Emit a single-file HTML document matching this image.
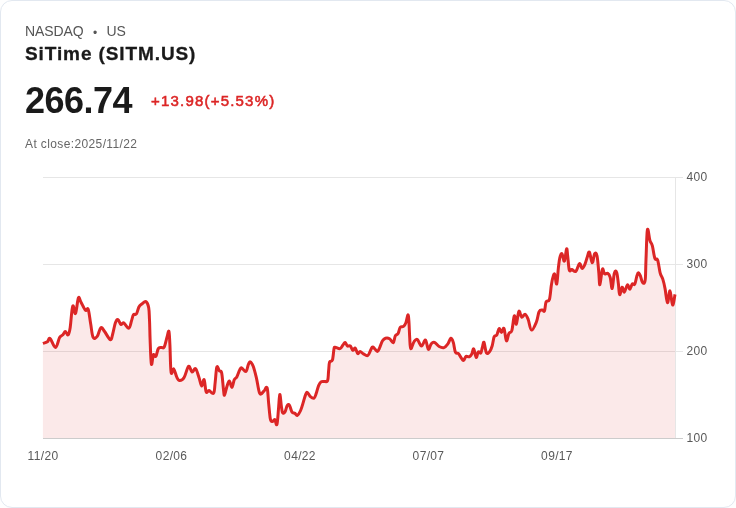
<!DOCTYPE html>
<html lang="en">
<head>
<meta charset="utf-8">
<title>SiTime (SITM.US)</title>
<style>
html,body{margin:0;padding:0;background:#fefefe;}
body{width:736px;height:508px;overflow:hidden;font-family:"Liberation Sans",sans-serif;}
.card{position:absolute;left:0;top:0;width:734px;height:506px;border:1px solid #e2e8f0;border-radius:12px;background:#fff;overflow:hidden;}
.t{position:absolute;white-space:nowrap;line-height:1;}
.ex{left:24px;top:23px;font-size:14px;color:#555;letter-spacing:-0.1px;}
.ex .dot{display:inline-block;width:23px;text-align:center;font-size:12px;position:relative;top:1px;left:0px;letter-spacing:0;}
.name{left:24px;top:43px;font-size:19px;font-weight:bold;color:#1a1a1a;letter-spacing:0.9px;-webkit-text-stroke:0.3px #1a1a1a;}
.price{left:24px;top:82px;font-size:36px;font-weight:bold;color:#1a1a1a;letter-spacing:-0.5px;}
.chg{left:150px;top:91.5px;font-size:15px;color:#dc2626;letter-spacing:1.2px;-webkit-text-stroke:0.55px #dc2626;}
.close{left:24px;top:137px;font-size:12px;color:#666;letter-spacing:0.38px;}
svg{position:absolute;left:-1px;top:-1px;}
svg text{font-family:"Liberation Sans",sans-serif;font-size:12px;fill:#595959;letter-spacing:0.35px;}
</style>
</head>
<body>
<div class="card">
<div class="t ex">NASDAQ<span class="dot">•</span>US</div>
<div class="t name">SiTime (SITM.US)</div>
<div class="t price">266.74</div>
<div class="t chg">+13.98(+5.53%)</div>
<div class="t close">At close:2025/11/22</div>
<svg width="736" height="508" viewBox="0 0 736 508">
<g stroke="#e6e6e6" stroke-width="1" shape-rendering="crispEdges">
<line x1="43" y1="177.5" x2="683" y2="177.5"/>
<line x1="43" y1="264.5" x2="683" y2="264.5"/>
<line x1="43" y1="351.5" x2="683" y2="351.5"/>
<line x1="675.5" y1="177" x2="675.5" y2="439"/>
</g>
<path d="M42.9 343.4C43.7 343.1 46.1 342.7 47.4 341.8C48.7 340.9 48.6 337.5 50.1 338.5C51.6 339.5 53.8 347.6 55.5 347.4C57.2 347.2 58.3 339.8 59.6 337.5C60.9 335.2 61.9 335.9 62.9 334.8C63.9 333.7 64.4 331.5 65.3 331.5C66.2 331.5 67.2 335.5 68.1 334.8C69.0 334.1 69.4 332.5 70.2 327.4C71.0 322.3 71.7 308.7 72.7 306.2C73.7 303.7 74.5 315.0 75.5 313.5C76.5 312.0 77.4 300.1 78.4 298.0C79.4 295.9 79.6 299.8 80.9 302.0C82.2 304.2 84.1 308.9 85.4 310.2C86.7 311.5 87.2 306.9 88.2 309.4C89.2 311.9 89.8 319.1 90.7 324.1C91.6 329.1 91.9 335.0 93.1 337.2C94.3 339.4 95.8 338.1 97.2 336.4C98.6 334.7 99.5 328.6 100.8 327.7C102.1 326.8 102.9 329.3 104.6 331.5C106.3 333.7 108.8 339.2 110.3 339.7C111.8 340.1 111.8 337.1 112.7 334.0C113.6 330.9 114.5 325.1 115.5 322.5C116.5 319.9 117.0 319.2 118.0 319.6C119.0 320.0 119.9 323.9 120.9 324.5C121.9 325.1 122.3 322.1 123.7 322.8C125.1 323.5 127.4 328.5 128.8 328.2C130.2 327.9 130.7 323.3 131.5 320.9C132.3 318.5 132.6 315.9 133.5 314.7C134.4 313.5 135.4 315.4 136.4 314.0C137.4 312.6 137.9 308.9 138.9 307.0C139.9 305.1 140.9 304.7 142.2 303.7C143.5 302.7 144.7 300.9 145.9 301.6C147.1 302.3 148.1 304.5 148.7 307.8C149.3 311.1 149.2 314.3 149.5 320.0C149.8 325.7 149.8 331.7 150.1 339.6C150.4 347.5 150.8 361.4 151.4 364.1C152.0 366.8 152.6 356.1 153.4 354.7C154.2 353.3 155.0 357.4 155.9 356.3C156.8 355.2 157.3 350.2 158.3 348.6C159.3 347.0 160.2 347.8 161.3 347.5C162.4 347.2 163.2 348.9 164.2 347.0C165.2 345.1 166.2 340.0 167.0 337.2C167.8 334.4 168.4 330.1 168.9 331.4C169.4 332.7 169.5 337.1 169.9 344.5C170.3 351.9 170.4 367.9 171.1 372.3C171.8 376.7 172.8 368.1 173.8 369.0C174.8 369.9 175.8 375.1 176.8 377.2C177.8 379.3 178.3 380.4 179.6 380.5C180.9 380.6 182.5 380.1 184.1 377.5C185.7 374.9 187.2 367.3 188.6 366.3C190.0 365.3 190.7 371.6 192.0 372.0C193.3 372.4 194.4 367.7 195.6 368.6C196.8 369.5 197.8 374.1 198.9 377.2C200.0 380.3 200.7 385.4 201.6 385.9C202.5 386.3 203.3 378.6 204.1 379.7C204.9 380.8 205.3 389.9 206.2 391.9C207.1 393.9 207.7 390.4 209.0 390.6C210.3 390.8 212.5 394.7 213.6 393.2C214.7 391.7 214.6 386.8 215.2 382.1C215.8 377.4 216.1 369.2 216.8 367.1C217.5 365.0 218.4 369.6 219.3 370.7C220.2 371.8 221.0 369.9 221.7 373.1C222.4 376.3 222.9 384.7 223.4 388.7C223.9 392.7 223.9 395.6 224.5 395.2C225.1 394.8 226.1 388.8 227.0 386.2C227.9 383.6 228.5 380.8 229.4 381.0C230.3 381.2 231.0 387.6 231.9 387.4C232.8 387.2 233.4 381.6 234.3 379.7C235.2 377.8 235.8 378.7 236.8 376.9C237.8 375.1 238.8 371.5 239.7 369.9C240.6 368.3 240.6 367.6 241.7 367.9C242.8 368.2 244.7 372.1 245.9 371.5C247.1 370.9 247.5 366.4 248.3 364.7C249.1 363.0 249.3 361.5 250.2 361.8C251.1 362.1 252.1 363.4 253.2 366.3C254.3 369.2 255.2 372.9 256.4 377.8C257.6 382.7 258.4 390.9 259.7 393.3C261.0 395.7 262.5 392.2 263.8 391.2C265.1 390.2 266.2 385.6 267.1 387.9C268.0 390.2 268.1 398.4 268.7 403.9C269.3 409.4 269.7 415.5 270.3 418.7C270.9 421.9 271.5 421.5 272.3 421.6C273.1 421.7 274.0 419.0 274.8 419.5C275.6 420.0 276.2 426.3 276.9 424.4C277.6 422.5 278.0 414.3 278.5 408.9C279.0 403.5 279.3 395.1 279.8 394.5C280.3 393.9 280.8 402.3 281.3 405.6C281.8 408.9 281.9 411.5 282.6 412.6C283.3 413.7 284.3 413.1 285.1 411.8C285.9 410.5 286.4 406.8 287.2 405.6C288.0 404.4 288.7 404.2 289.5 405.3C290.3 406.4 290.9 410.3 291.9 411.8C292.9 413.3 293.9 412.8 294.9 413.4C295.9 414.0 296.3 415.9 297.3 415.4C298.3 414.9 299.5 413.0 300.6 410.5C301.7 408.0 302.6 404.5 303.5 401.5C304.4 398.5 305.1 395.7 305.8 394.1C306.5 392.5 306.6 392.1 307.4 392.5C308.2 392.9 309.2 395.6 310.4 396.6C311.6 397.6 313.0 398.7 314.0 398.2C315.0 397.7 315.3 396.1 316.1 393.8C316.9 391.5 317.7 387.7 318.6 385.6C319.5 383.5 320.0 382.7 321.0 381.9C322.0 381.1 323.1 381.6 324.3 381.4C325.5 381.2 326.8 382.6 327.6 380.7C328.4 378.8 328.2 374.4 328.6 371.0C329.0 367.6 328.9 364.0 329.6 362.0C330.3 360.0 331.6 362.5 332.4 360.1C333.2 357.7 333.5 351.2 334.0 348.9C334.5 346.6 334.0 347.4 335.1 347.3C336.2 347.2 338.6 349.0 340.0 348.6C341.4 348.2 342.1 346.0 343.0 344.9C343.9 343.8 344.3 342.2 345.1 342.4C345.9 342.6 346.5 345.4 347.4 346.0C348.3 346.6 349.3 345.2 350.3 346.0C351.3 346.8 351.9 349.9 352.8 350.3C353.7 350.7 354.3 347.5 355.2 348.1C356.1 348.7 356.8 352.9 357.7 353.5C358.6 354.1 359.1 351.3 360.1 351.4C361.1 351.5 362.0 353.2 363.4 353.9C364.8 354.6 366.5 356.2 367.8 355.5C369.1 354.8 369.9 351.3 370.8 349.8C371.7 348.3 371.7 346.7 372.9 347.0C374.1 347.3 376.1 351.3 377.3 351.4C378.5 351.5 378.9 349.2 379.8 347.3C380.7 345.4 381.5 342.4 382.5 340.8C383.5 339.2 384.2 338.7 385.5 338.3C386.8 337.9 388.2 338.0 389.6 338.8C391.0 339.6 392.3 343.2 393.3 342.7C394.3 342.2 394.4 337.6 395.3 335.9C396.2 334.2 397.2 334.9 398.1 333.4C399.0 331.9 399.2 328.7 400.2 327.4C401.2 326.1 402.5 327.2 403.5 326.4C404.5 325.6 405.1 324.9 405.9 322.8C406.7 320.7 407.4 315.2 407.9 314.9C408.4 314.6 408.6 317.1 408.9 321.2C409.2 325.3 409.4 332.6 409.7 337.5C410.0 342.4 410.0 347.9 410.8 348.6C411.6 349.3 412.9 343.2 414.1 341.6C415.3 340.0 416.1 338.7 417.4 339.5C418.7 340.3 420.0 345.9 421.5 346.0C423.0 346.1 424.3 339.4 425.5 340.0C426.7 340.6 427.3 348.6 428.3 349.3C429.3 350.0 430.2 344.9 431.3 343.7C432.4 342.5 433.1 341.9 434.5 342.4C435.9 342.9 437.4 345.6 439.1 346.5C440.8 347.4 442.4 348.1 444.0 347.6C445.6 347.2 446.6 345.7 447.8 344.0C449.0 342.3 449.9 338.6 450.9 338.3C451.9 338.0 452.5 339.9 453.3 342.4C454.1 344.9 454.5 350.2 455.4 352.2C456.3 354.2 457.4 352.5 458.4 353.5C459.4 354.5 460.3 356.7 461.2 357.9C462.1 359.1 462.7 360.7 463.6 360.4C464.5 360.1 465.1 356.9 466.1 356.3C467.1 355.7 468.3 357.2 469.3 356.8C470.3 356.4 471.0 355.3 471.8 353.9C472.6 352.5 472.9 348.3 473.7 348.9C474.5 349.5 475.4 356.9 476.2 357.4C477.0 357.9 477.5 352.7 478.3 351.9C479.1 351.1 480.1 353.8 480.8 353.0C481.5 352.2 481.8 349.2 482.4 347.3C483.0 345.4 483.3 341.4 484.0 342.4C484.7 343.4 485.5 351.4 486.5 353.0C487.5 354.6 488.8 352.7 489.8 351.4C490.8 350.1 491.4 348.3 492.2 345.7C493.0 343.1 493.4 338.6 494.2 336.7C495.0 334.8 495.9 336.6 496.8 335.1C497.7 333.6 498.3 328.9 499.1 328.5C499.9 328.1 500.6 332.6 501.5 332.6C502.4 332.6 503.1 327.0 504.0 328.5C504.9 330.0 505.5 339.9 506.4 340.8C507.3 341.7 507.9 335.2 508.9 333.4C509.9 331.6 510.8 333.8 511.8 330.6C512.8 327.5 513.5 317.1 514.3 315.9C515.1 314.7 515.5 324.9 516.3 324.1C517.1 323.3 517.9 312.6 518.9 311.3C519.9 310.0 520.5 316.6 521.6 317.1C522.7 317.6 524.0 313.9 525.2 314.3C526.4 314.7 527.1 316.7 528.2 319.5C529.3 322.3 530.0 329.7 531.5 330.1C533.0 330.6 535.0 325.3 536.4 322.0C537.8 318.7 538.0 313.8 539.1 311.7C540.2 309.6 541.4 310.2 542.4 310.1C543.4 310.0 543.8 312.4 544.5 310.9C545.2 309.4 545.2 304.0 546.1 301.9C547.0 299.8 548.5 302.4 549.4 299.5C550.3 296.6 550.7 289.4 551.3 285.6C551.9 281.8 552.1 280.3 552.7 278.2C553.3 276.1 553.9 273.1 554.6 274.1C555.3 275.1 556.0 285.1 556.7 283.9C557.4 282.7 557.8 272.3 558.4 267.6C559.0 262.9 559.2 260.3 559.8 257.8C560.4 255.3 561.2 253.1 562.0 253.7C562.8 254.3 563.6 262.0 564.4 261.1C565.2 260.2 566.0 249.7 566.6 248.8C567.2 247.9 567.2 252.4 567.7 256.2C568.2 260.0 568.6 267.7 569.3 270.1C570.0 272.5 570.6 269.4 571.8 269.6C573.0 269.8 574.5 272.3 575.9 271.2C577.3 270.1 578.4 264.0 579.5 263.5C580.6 263.0 581.1 268.3 582.1 268.4C583.1 268.5 584.0 266.4 584.9 264.3C585.8 262.2 586.5 259.2 587.3 257.0C588.1 254.8 588.5 251.1 589.4 252.1C590.3 253.1 591.2 262.4 592.2 262.7C593.2 263.0 593.8 254.9 594.7 253.7C595.6 252.5 596.4 252.8 597.1 256.2C597.8 259.6 598.3 267.4 598.8 272.5C599.3 277.6 599.3 285.4 599.9 284.8C600.5 284.2 601.6 271.2 602.4 269.2C603.2 267.2 603.5 273.1 604.5 273.8C605.5 274.5 606.7 272.7 607.7 273.3C608.7 273.9 609.4 274.7 610.2 277.4C611.0 280.1 611.5 289.2 612.2 288.5C612.9 287.8 613.5 276.2 614.3 273.3C615.1 270.4 616.0 270.6 616.7 272.5C617.4 274.4 617.9 279.9 618.4 283.9C618.9 287.9 619.0 294.0 619.7 294.6C620.4 295.2 621.3 287.6 622.1 287.2C622.9 286.8 623.4 292.5 624.4 292.1C625.4 291.7 626.4 285.3 627.4 284.8C628.4 284.3 628.9 289.4 629.8 289.2C630.7 289.0 631.4 284.8 632.3 283.9C633.2 283.0 633.9 285.6 634.7 284.3C635.5 283.0 636.1 278.7 636.7 276.6C637.3 274.5 637.6 272.9 638.3 272.8C639.0 272.7 639.7 274.2 640.4 275.8C641.1 277.4 641.4 280.2 642.1 281.5C642.8 282.8 643.6 283.7 644.2 283.1C644.8 282.5 645.1 282.3 645.4 278.0C645.7 273.7 645.6 268.1 646.0 259.4C646.4 250.7 646.7 233.2 647.4 229.8C648.1 226.4 649.1 237.9 650.0 240.7C650.9 243.5 651.4 242.4 652.3 245.6C653.2 248.8 653.9 255.8 654.9 258.4C655.9 261.0 656.6 257.4 657.6 260.0C658.6 262.6 659.3 269.7 660.2 273.1C661.1 276.5 661.9 276.3 662.8 279.1C663.7 281.9 664.3 284.7 665.1 288.9C665.9 293.1 666.6 302.3 667.5 302.7C668.4 303.1 669.1 290.5 670.0 290.9C670.9 291.3 671.7 304.4 672.6 305.0C673.5 305.6 674.6 296.3 675.0 294.4L675.0 438.5L42.9 438.5Z" fill="rgba(220,38,38,0.1)" stroke="none"/>
<line x1="43" y1="438.5" x2="683" y2="438.5" stroke="#ccc" stroke-width="1" shape-rendering="crispEdges"/>
<path d="M42.9 343.4C43.7 343.1 46.1 342.7 47.4 341.8C48.7 340.9 48.6 337.5 50.1 338.5C51.6 339.5 53.8 347.6 55.5 347.4C57.2 347.2 58.3 339.8 59.6 337.5C60.9 335.2 61.9 335.9 62.9 334.8C63.9 333.7 64.4 331.5 65.3 331.5C66.2 331.5 67.2 335.5 68.1 334.8C69.0 334.1 69.4 332.5 70.2 327.4C71.0 322.3 71.7 308.7 72.7 306.2C73.7 303.7 74.5 315.0 75.5 313.5C76.5 312.0 77.4 300.1 78.4 298.0C79.4 295.9 79.6 299.8 80.9 302.0C82.2 304.2 84.1 308.9 85.4 310.2C86.7 311.5 87.2 306.9 88.2 309.4C89.2 311.9 89.8 319.1 90.7 324.1C91.6 329.1 91.9 335.0 93.1 337.2C94.3 339.4 95.8 338.1 97.2 336.4C98.6 334.7 99.5 328.6 100.8 327.7C102.1 326.8 102.9 329.3 104.6 331.5C106.3 333.7 108.8 339.2 110.3 339.7C111.8 340.1 111.8 337.1 112.7 334.0C113.6 330.9 114.5 325.1 115.5 322.5C116.5 319.9 117.0 319.2 118.0 319.6C119.0 320.0 119.9 323.9 120.9 324.5C121.9 325.1 122.3 322.1 123.7 322.8C125.1 323.5 127.4 328.5 128.8 328.2C130.2 327.9 130.7 323.3 131.5 320.9C132.3 318.5 132.6 315.9 133.5 314.7C134.4 313.5 135.4 315.4 136.4 314.0C137.4 312.6 137.9 308.9 138.9 307.0C139.9 305.1 140.9 304.7 142.2 303.7C143.5 302.7 144.7 300.9 145.9 301.6C147.1 302.3 148.1 304.5 148.7 307.8C149.3 311.1 149.2 314.3 149.5 320.0C149.8 325.7 149.8 331.7 150.1 339.6C150.4 347.5 150.8 361.4 151.4 364.1C152.0 366.8 152.6 356.1 153.4 354.7C154.2 353.3 155.0 357.4 155.9 356.3C156.8 355.2 157.3 350.2 158.3 348.6C159.3 347.0 160.2 347.8 161.3 347.5C162.4 347.2 163.2 348.9 164.2 347.0C165.2 345.1 166.2 340.0 167.0 337.2C167.8 334.4 168.4 330.1 168.9 331.4C169.4 332.7 169.5 337.1 169.9 344.5C170.3 351.9 170.4 367.9 171.1 372.3C171.8 376.7 172.8 368.1 173.8 369.0C174.8 369.9 175.8 375.1 176.8 377.2C177.8 379.3 178.3 380.4 179.6 380.5C180.9 380.6 182.5 380.1 184.1 377.5C185.7 374.9 187.2 367.3 188.6 366.3C190.0 365.3 190.7 371.6 192.0 372.0C193.3 372.4 194.4 367.7 195.6 368.6C196.8 369.5 197.8 374.1 198.9 377.2C200.0 380.3 200.7 385.4 201.6 385.9C202.5 386.3 203.3 378.6 204.1 379.7C204.9 380.8 205.3 389.9 206.2 391.9C207.1 393.9 207.7 390.4 209.0 390.6C210.3 390.8 212.5 394.7 213.6 393.2C214.7 391.7 214.6 386.8 215.2 382.1C215.8 377.4 216.1 369.2 216.8 367.1C217.5 365.0 218.4 369.6 219.3 370.7C220.2 371.8 221.0 369.9 221.7 373.1C222.4 376.3 222.9 384.7 223.4 388.7C223.9 392.7 223.9 395.6 224.5 395.2C225.1 394.8 226.1 388.8 227.0 386.2C227.9 383.6 228.5 380.8 229.4 381.0C230.3 381.2 231.0 387.6 231.9 387.4C232.8 387.2 233.4 381.6 234.3 379.7C235.2 377.8 235.8 378.7 236.8 376.9C237.8 375.1 238.8 371.5 239.7 369.9C240.6 368.3 240.6 367.6 241.7 367.9C242.8 368.2 244.7 372.1 245.9 371.5C247.1 370.9 247.5 366.4 248.3 364.7C249.1 363.0 249.3 361.5 250.2 361.8C251.1 362.1 252.1 363.4 253.2 366.3C254.3 369.2 255.2 372.9 256.4 377.8C257.6 382.7 258.4 390.9 259.7 393.3C261.0 395.7 262.5 392.2 263.8 391.2C265.1 390.2 266.2 385.6 267.1 387.9C268.0 390.2 268.1 398.4 268.7 403.9C269.3 409.4 269.7 415.5 270.3 418.7C270.9 421.9 271.5 421.5 272.3 421.6C273.1 421.7 274.0 419.0 274.8 419.5C275.6 420.0 276.2 426.3 276.9 424.4C277.6 422.5 278.0 414.3 278.5 408.9C279.0 403.5 279.3 395.1 279.8 394.5C280.3 393.9 280.8 402.3 281.3 405.6C281.8 408.9 281.9 411.5 282.6 412.6C283.3 413.7 284.3 413.1 285.1 411.8C285.9 410.5 286.4 406.8 287.2 405.6C288.0 404.4 288.7 404.2 289.5 405.3C290.3 406.4 290.9 410.3 291.9 411.8C292.9 413.3 293.9 412.8 294.9 413.4C295.9 414.0 296.3 415.9 297.3 415.4C298.3 414.9 299.5 413.0 300.6 410.5C301.7 408.0 302.6 404.5 303.5 401.5C304.4 398.5 305.1 395.7 305.8 394.1C306.5 392.5 306.6 392.1 307.4 392.5C308.2 392.9 309.2 395.6 310.4 396.6C311.6 397.6 313.0 398.7 314.0 398.2C315.0 397.7 315.3 396.1 316.1 393.8C316.9 391.5 317.7 387.7 318.6 385.6C319.5 383.5 320.0 382.7 321.0 381.9C322.0 381.1 323.1 381.6 324.3 381.4C325.5 381.2 326.8 382.6 327.6 380.7C328.4 378.8 328.2 374.4 328.6 371.0C329.0 367.6 328.9 364.0 329.6 362.0C330.3 360.0 331.6 362.5 332.4 360.1C333.2 357.7 333.5 351.2 334.0 348.9C334.5 346.6 334.0 347.4 335.1 347.3C336.2 347.2 338.6 349.0 340.0 348.6C341.4 348.2 342.1 346.0 343.0 344.9C343.9 343.8 344.3 342.2 345.1 342.4C345.9 342.6 346.5 345.4 347.4 346.0C348.3 346.6 349.3 345.2 350.3 346.0C351.3 346.8 351.9 349.9 352.8 350.3C353.7 350.7 354.3 347.5 355.2 348.1C356.1 348.7 356.8 352.9 357.7 353.5C358.6 354.1 359.1 351.3 360.1 351.4C361.1 351.5 362.0 353.2 363.4 353.9C364.8 354.6 366.5 356.2 367.8 355.5C369.1 354.8 369.9 351.3 370.8 349.8C371.7 348.3 371.7 346.7 372.9 347.0C374.1 347.3 376.1 351.3 377.3 351.4C378.5 351.5 378.9 349.2 379.8 347.3C380.7 345.4 381.5 342.4 382.5 340.8C383.5 339.2 384.2 338.7 385.5 338.3C386.8 337.9 388.2 338.0 389.6 338.8C391.0 339.6 392.3 343.2 393.3 342.7C394.3 342.2 394.4 337.6 395.3 335.9C396.2 334.2 397.2 334.9 398.1 333.4C399.0 331.9 399.2 328.7 400.2 327.4C401.2 326.1 402.5 327.2 403.5 326.4C404.5 325.6 405.1 324.9 405.9 322.8C406.7 320.7 407.4 315.2 407.9 314.9C408.4 314.6 408.6 317.1 408.9 321.2C409.2 325.3 409.4 332.6 409.7 337.5C410.0 342.4 410.0 347.9 410.8 348.6C411.6 349.3 412.9 343.2 414.1 341.6C415.3 340.0 416.1 338.7 417.4 339.5C418.7 340.3 420.0 345.9 421.5 346.0C423.0 346.1 424.3 339.4 425.5 340.0C426.7 340.6 427.3 348.6 428.3 349.3C429.3 350.0 430.2 344.9 431.3 343.7C432.4 342.5 433.1 341.9 434.5 342.4C435.9 342.9 437.4 345.6 439.1 346.5C440.8 347.4 442.4 348.1 444.0 347.6C445.6 347.2 446.6 345.7 447.8 344.0C449.0 342.3 449.9 338.6 450.9 338.3C451.9 338.0 452.5 339.9 453.3 342.4C454.1 344.9 454.5 350.2 455.4 352.2C456.3 354.2 457.4 352.5 458.4 353.5C459.4 354.5 460.3 356.7 461.2 357.9C462.1 359.1 462.7 360.7 463.6 360.4C464.5 360.1 465.1 356.9 466.1 356.3C467.1 355.7 468.3 357.2 469.3 356.8C470.3 356.4 471.0 355.3 471.8 353.9C472.6 352.5 472.9 348.3 473.7 348.9C474.5 349.5 475.4 356.9 476.2 357.4C477.0 357.9 477.5 352.7 478.3 351.9C479.1 351.1 480.1 353.8 480.8 353.0C481.5 352.2 481.8 349.2 482.4 347.3C483.0 345.4 483.3 341.4 484.0 342.4C484.7 343.4 485.5 351.4 486.5 353.0C487.5 354.6 488.8 352.7 489.8 351.4C490.8 350.1 491.4 348.3 492.2 345.7C493.0 343.1 493.4 338.6 494.2 336.7C495.0 334.8 495.9 336.6 496.8 335.1C497.7 333.6 498.3 328.9 499.1 328.5C499.9 328.1 500.6 332.6 501.5 332.6C502.4 332.6 503.1 327.0 504.0 328.5C504.9 330.0 505.5 339.9 506.4 340.8C507.3 341.7 507.9 335.2 508.9 333.4C509.9 331.6 510.8 333.8 511.8 330.6C512.8 327.5 513.5 317.1 514.3 315.9C515.1 314.7 515.5 324.9 516.3 324.1C517.1 323.3 517.9 312.6 518.9 311.3C519.9 310.0 520.5 316.6 521.6 317.1C522.7 317.6 524.0 313.9 525.2 314.3C526.4 314.7 527.1 316.7 528.2 319.5C529.3 322.3 530.0 329.7 531.5 330.1C533.0 330.6 535.0 325.3 536.4 322.0C537.8 318.7 538.0 313.8 539.1 311.7C540.2 309.6 541.4 310.2 542.4 310.1C543.4 310.0 543.8 312.4 544.5 310.9C545.2 309.4 545.2 304.0 546.1 301.9C547.0 299.8 548.5 302.4 549.4 299.5C550.3 296.6 550.7 289.4 551.3 285.6C551.9 281.8 552.1 280.3 552.7 278.2C553.3 276.1 553.9 273.1 554.6 274.1C555.3 275.1 556.0 285.1 556.7 283.9C557.4 282.7 557.8 272.3 558.4 267.6C559.0 262.9 559.2 260.3 559.8 257.8C560.4 255.3 561.2 253.1 562.0 253.7C562.8 254.3 563.6 262.0 564.4 261.1C565.2 260.2 566.0 249.7 566.6 248.8C567.2 247.9 567.2 252.4 567.7 256.2C568.2 260.0 568.6 267.7 569.3 270.1C570.0 272.5 570.6 269.4 571.8 269.6C573.0 269.8 574.5 272.3 575.9 271.2C577.3 270.1 578.4 264.0 579.5 263.5C580.6 263.0 581.1 268.3 582.1 268.4C583.1 268.5 584.0 266.4 584.9 264.3C585.8 262.2 586.5 259.2 587.3 257.0C588.1 254.8 588.5 251.1 589.4 252.1C590.3 253.1 591.2 262.4 592.2 262.7C593.2 263.0 593.8 254.9 594.7 253.7C595.6 252.5 596.4 252.8 597.1 256.2C597.8 259.6 598.3 267.4 598.8 272.5C599.3 277.6 599.3 285.4 599.9 284.8C600.5 284.2 601.6 271.2 602.4 269.2C603.2 267.2 603.5 273.1 604.5 273.8C605.5 274.5 606.7 272.7 607.7 273.3C608.7 273.9 609.4 274.7 610.2 277.4C611.0 280.1 611.5 289.2 612.2 288.5C612.9 287.8 613.5 276.2 614.3 273.3C615.1 270.4 616.0 270.6 616.7 272.5C617.4 274.4 617.9 279.9 618.4 283.9C618.9 287.9 619.0 294.0 619.7 294.6C620.4 295.2 621.3 287.6 622.1 287.2C622.9 286.8 623.4 292.5 624.4 292.1C625.4 291.7 626.4 285.3 627.4 284.8C628.4 284.3 628.9 289.4 629.8 289.2C630.7 289.0 631.4 284.8 632.3 283.9C633.2 283.0 633.9 285.6 634.7 284.3C635.5 283.0 636.1 278.7 636.7 276.6C637.3 274.5 637.6 272.9 638.3 272.8C639.0 272.7 639.7 274.2 640.4 275.8C641.1 277.4 641.4 280.2 642.1 281.5C642.8 282.8 643.6 283.7 644.2 283.1C644.8 282.5 645.1 282.3 645.4 278.0C645.7 273.7 645.6 268.1 646.0 259.4C646.4 250.7 646.7 233.2 647.4 229.8C648.1 226.4 649.1 237.9 650.0 240.7C650.9 243.5 651.4 242.4 652.3 245.6C653.2 248.8 653.9 255.8 654.9 258.4C655.9 261.0 656.6 257.4 657.6 260.0C658.6 262.6 659.3 269.7 660.2 273.1C661.1 276.5 661.9 276.3 662.8 279.1C663.7 281.9 664.3 284.7 665.1 288.9C665.9 293.1 666.6 302.3 667.5 302.7C668.4 303.1 669.1 290.5 670.0 290.9C670.9 291.3 671.7 304.4 672.6 305.0C673.5 305.6 674.6 296.3 675.0 294.4" fill="none" stroke="#dc2626" stroke-width="3" stroke-linejoin="round" stroke-linecap="butt"/>
<g>
<text x="686.4" y="181">400</text>
<text x="686.4" y="268">300</text>
<text x="686.4" y="355">200</text>
<text x="686.4" y="442">100</text>
</g>
<g text-anchor="middle" style="letter-spacing:0.12px">
<text x="43" y="460">11/20</text>
<text x="171.5" y="460">02/06</text>
<text x="300" y="460">04/22</text>
<text x="428.5" y="460">07/07</text>
<text x="557" y="460">09/17</text>
</g>
</svg>
</div>
</body>
</html>
